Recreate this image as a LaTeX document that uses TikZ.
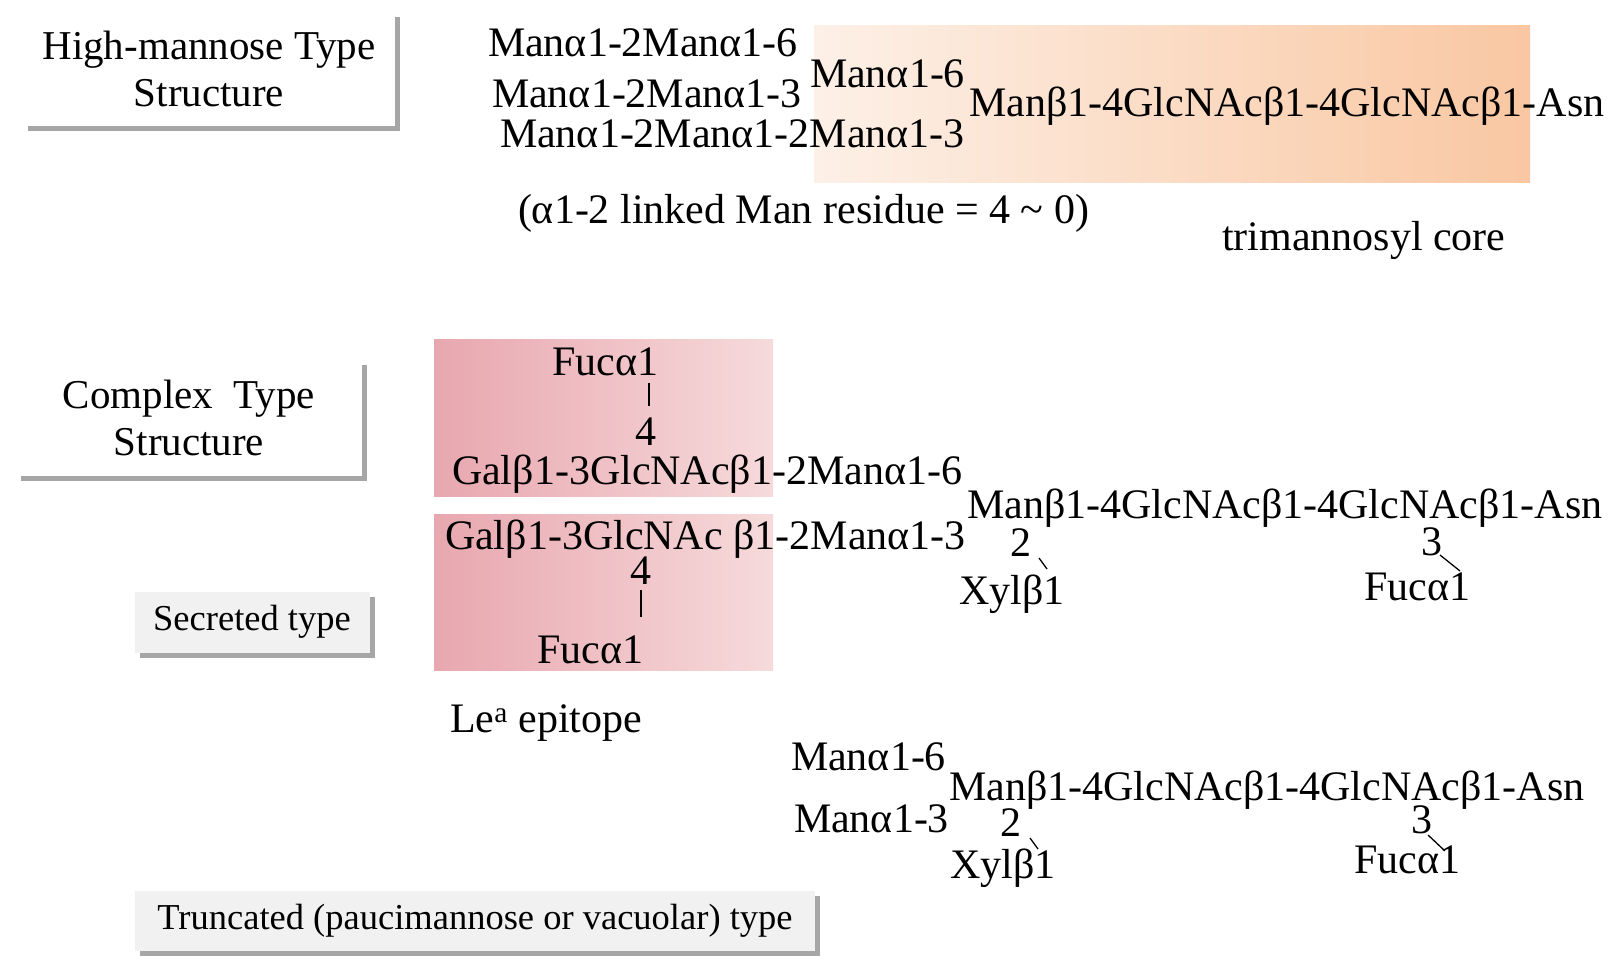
\documentclass[tikz,border=0pt]{standalone}
\usepackage{fontspec}
\setmainfont{Liberation Serif}
\usetikzlibrary{shadows}
\definecolor{peachL}{HTML}{FDF0E7}
\definecolor{peachR}{HTML}{F9C7A2}
\definecolor{pinkL}{HTML}{E8A7AF}
\definecolor{pinkR}{HTML}{F6DADB}
\definecolor{greyfill}{HTML}{F1F1F1}
\tikzset{
  chem/.style={font=\fontsize{42}{46}\selectfont, inner sep=0pt, outer sep=0pt},
  tbox/.style={fill=white, align=center, inner sep=0pt, font=\fontsize{41}{47}\selectfont,
    drop shadow={shadow xshift=5pt, shadow yshift=-5pt, fill=black, opacity=0.35}},
  gbox/.style={tbox, fill=greyfill, font=\fontsize{36.5}{42}\selectfont},
  bond/.style={line width=2pt, black},
  diag/.style={line width=1.3pt, black},
}
\begin{document}
\begin{tikzpicture}[x=1pt, y=-1pt]
\useasboundingbox (0,0) rectangle (1621,976);
\fill[white] (0,0) rectangle (1621,976);

% label boxes
\node[tbox, minimum width=372pt, minimum height=114pt] (hmbox) at (209,69) {High-mannose Type\\Structure};
\node[tbox, minimum width=346pt, minimum height=116pt] (cxbox) at (189,418) {Complex\ \ Type\\Structure};
\node[gbox, minimum width=235pt, minimum height=61pt] (secbox) at (252,622) {Secreted type};
\node[gbox, minimum width=680pt, minimum height=60pt] (trbox) at (475,921) {Truncated (paucimannose or vacuolar) type};

% coloured backgrounds
\shade[left color=peachL, right color=peachR] (814,26) rectangle (1530,183);
\shade[left color=pinkL, right color=pinkR] (434,339) rectangle (773,496);
\shade[left color=pinkL, right color=pinkR] (434,514) rectangle (773,670);

% high-mannose
\node[chem, anchor=base west] (h1) at (488,57) {Manα1-2Manα1-6};
\node[chem, anchor=base west] (h2) at (492,108) {Manα1-2Manα1-3};
\node[chem, anchor=base west] (h3) at (500,148) {Manα1-2Manα1-2Manα1-3};
\node[chem, anchor=base west] (h4) at (810,88) {Manα1-6};
\node[chem, anchor=base west] (h5) at (969,117) {Manβ1-4GlcNAcβ1-4GlcNAcβ1-Asn};
\node[chem, anchor=base west] (hnote) at (518,224) {(α1-2 linked Man residue = 4 \textasciitilde{} 0)};
\node[chem, anchor=base west] (core) at (1222,251) {trimannosyl core};

% complex
\node[chem, anchor=base] (cfuc) at (605,375) {Fucα1};
\node[chem, anchor=base] (c4a) at (646,445) {4};
\coordinate (cbarT) at (649,383);
\coordinate (cbarB) at (649,406);
\draw[bond] (cbarT) -- (cbarB);
\node[chem, anchor=base west] (cg1) at (452,484) {Galβ1-3GlcNAcβ1-2Manα1-6};
\node[chem, anchor=base west] (cm) at (967,518) {Manβ1-4GlcNAcβ1-4GlcNAcβ1-Asn};
\node[chem, anchor=base west] (cg2) at (445,549) {Galβ1-3GlcNAc β1-2Manα1-3};
\node[chem, anchor=base] (c2) at (1021,556) {2};
\node[chem, anchor=base] (c3) at (1432,555) {3};
\node[chem, anchor=base] (c4b) at (641,584) {4};
\coordinate (cbar2T) at (641,590);
\coordinate (cbar2B) at (641,617);
\draw[bond] (cbar2T) -- (cbar2B);
\node[chem, anchor=base] (cxyl) at (1012,604) {Xylβ1};
\node[chem, anchor=base] (cfuc3) at (1417,600) {Fucα1};
\node[chem, anchor=base] (cfuc2) at (590,663) {Fucα1};
\node[chem, anchor=base west] (lea) at (450,732) {Le\textsuperscript{a} epitope};
\coordinate (cd2a) at (1039,558);
\coordinate (cd2b) at (1047,569);
\draw[diag] (cd2a) -- (cd2b);
\coordinate (cd3a) at (1440,555);
\coordinate (cd3b) at (1460,571);
\draw[diag] (cd3a) -- (cd3b);

% truncated
\node[chem, anchor=base west] (t1) at (791,770) {Manα1-6};
\node[chem, anchor=base west] (t2) at (949,800) {Manβ1-4GlcNAcβ1-4GlcNAcβ1-Asn};
\node[chem, anchor=base west] (t3) at (794,832) {Manα1-3};
\node[chem, anchor=base] (t2n) at (1011,836) {2};
\node[chem, anchor=base] (t3n) at (1422,833) {3};
\node[chem, anchor=base] (txyl) at (1003,878) {Xylβ1};
\node[chem, anchor=base] (tfuc) at (1407,873) {Fucα1};
\coordinate (td2a) at (1030,838);
\coordinate (td2b) at (1038,849);
\draw[diag] (td2a) -- (td2b);
\coordinate (td3a) at (1428,835);
\coordinate (td3b) at (1445,851);
\draw[diag] (td3a) -- (td3b);
\end{tikzpicture}
\end{document}
